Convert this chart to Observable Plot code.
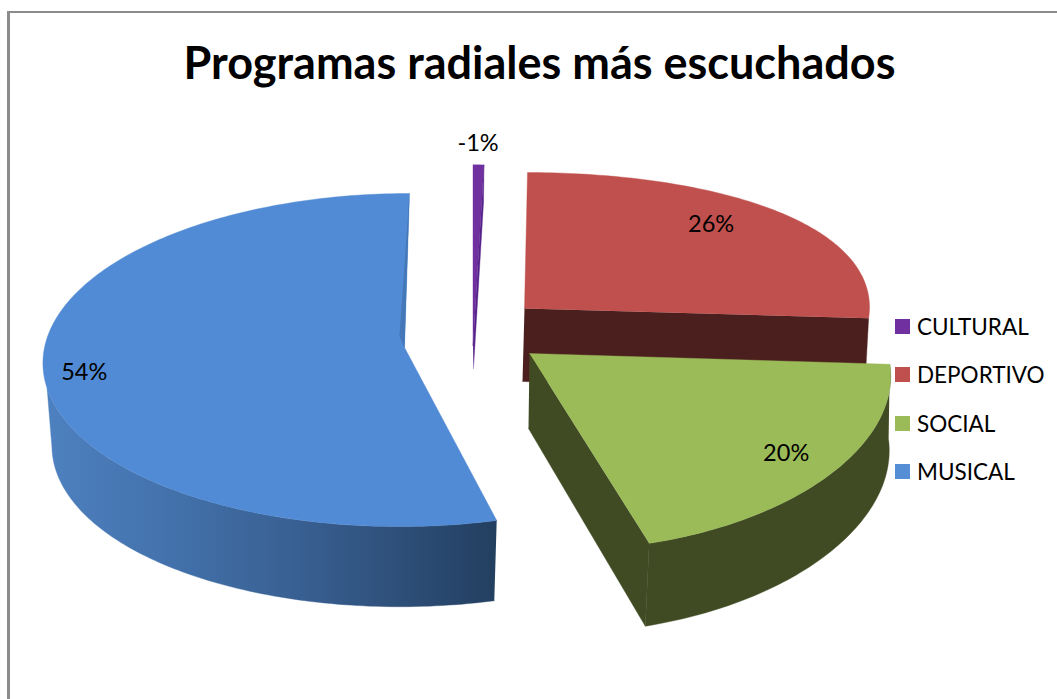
<!DOCTYPE html>
<html lang="es">
<head>
<meta charset="utf-8">
<script src="https://cdn.jsdelivr.net/npm/d3@7"></script>
<script src="https://cdn.jsdelivr.net/npm/@observablehq/plot@0.6"></script>
<style>
  html, body { margin: 0; padding: 0; background: #fff; overflow: hidden; }
  #page { position: relative; width: 1057px; height: 699px; overflow: hidden; font-family: Lato, sans-serif; color: #000; }
  #frame { position: absolute; left: 7px; top: 11px; width: 1060px; height: 700px; border-left: 3px solid #8c8c8c; border-top: 2px solid #8c8c8c; box-sizing: border-box; }
  #title { position: absolute; left: 10px; top: 24px; width: 1060px; text-align: center; font-size: 45px; line-height: 76px; font-weight: 700; height: 76px; white-space: nowrap; }
  #title span { position: relative; left: -0.5px; }
  #chart { position: absolute; left: 0; top: 110px; }
  #chart svg { display: block; background: transparent; }
  #legend { position: absolute; left: 895px; top: 303px; }
  .row { position: relative; height: 48.3px; width: 160px; }
  .key { position: absolute; left: 0; top: 16px; width: 15px; height: 15px; }
  .name { position: absolute; left: 22px; top: 0; line-height: 48px; font-size: 22.5px; white-space: nowrap; }
</style>
</head>
<body>
<div id="page">
  <div id="frame"></div>
  <div id="title"><span>Programas radiales más escuchados</span></div>
  <div id="chart"></div>
  <div id="legend"></div>
</div>
<script>
// ---- data ----
const categories = ["DEPORTIVO", "SOCIAL", "MUSICAL", "CULTURAL"];
const shares = [26, 20, 54, -0.5];
const shareLabels = ["26%", "20%", "54%", "-1%"];
const legendOrder = ["CULTURAL", "DEPORTIVO", "SOCIAL", "MUSICAL"];

// ---- styles ----
const topColors = {DEPORTIVO: "#BF504D", SOCIAL: "#9BBB59", MUSICAL: "#528BD5", CULTURAL: "#7030A0"};
const wallColors = {DEPORTIVO: "#4C1F1F", SOCIAL: "#404B24", MUSICAL: "url(#musicalWall)", CULTURAL: "#55218A"};

// ---- geometry of the tilted, exploded 3D pie (one disc per slice: top and bottom face) ----
const faces = {
  DEPORTIVO: {
    top: {cx: 524, cy: 308, R: 345, ky: 155, p: 0.14, q: 0, sk: -3},
    bot: {cx: 522, cy: 381, R: 343, ky: 155, p: 0.14, q: 0, sk: -3},
    label: {f: 0.74, dy: -11, dx: -1}
  },
  SOCIAL: {
    top: {cx: 529, cy: 353, R: 358, ky: 170, p: 0.137, q: 0.06, sk: 26},
    bot: {cx: 528, cy: 428, R: 358, ky: 177, p: 0.137, q: 0.06, sk: 23},
    label: {f: 0.87, dy: -2, dx: -6}
  },
  MUSICAL: {
    top: {cx: 404, cy: 347, R: 360, ky: 165.6, p: 0.075, q: 0.08, sk: -5},
    bot: {cx: 404, cy: 430, R: 351, ky: 163, p: 0.075, q: 0.08, sk: -5},
    inner: {cx: 399, cy: 335},
    wallTopEnd: 256,
    wallBotEnd: 264,
    label: {f: 0.89, dy: 6, dx: 1}
  },
  CULTURAL: {
    top: {cx: 472.5, cy: 345, R: 350, ky: 206, p: 0.14, q: 0, sk: 0},
    bot: {cx: 473, cy: 368, R: 320, ky: 190, p: 0.14, q: 0, sk: 0},
    label: {f: 1.1, dy: -6, dx: -1}
  }
};

const rad = d => d * Math.PI / 180;
function pt(face, deg, f = 1) {
  const u = Math.sin(rad(deg)), v = -Math.cos(rad(deg));
  return {
    x: face.cx + face.R * f * u / (1 - face.q * f * v) + face.sk * f * v,
    y: face.cy + face.ky * f * v / (1 - face.p * f * v)
  };
}
function arc(face, a0, a1) {
  const n = Math.max(2, Math.ceil(Math.abs(a1 - a0)));
  return d3.range(n + 1).map(i => pt(face, a0 + (a1 - a0) * i / n));
}

// cumulative angles from the shares
const slices = {};
let running = 0;
categories.forEach((c, i) => {
  const sweep = Math.abs(shares[i]) * 3.6;
  const a0 = shares[i] > 0 ? running : 360;
  slices[c] = {a0, a1: a0 + sweep, label: shareLabels[i]};
  if (shares[i] > 0) running += sweep;
});

const poly = (points, fill) =>
  Plot.line(points, {x: "x", y: "y", fill, stroke: fill, strokeWidth: 0.4, curve: "linear"});
const apex = f => ({x: f.cx, y: f.cy});

function topFace(c) {
  const s = slices[c], f = faces[c].top;
  return poly([apex(f), ...arc(f, s.a0, s.a1)], topColors[c]);
}
function outerWall(c, a0, a1Top, a1Bot) {
  const {top, bot} = faces[c];
  return poly([...arc(top, a0, a1Top), ...arc(bot, a1Bot, a0)], wallColors[c]);
}
function radialWall(c, deg) {
  const {top, bot} = faces[c];
  return poly([apex(top), pt(top, deg), pt(bot, deg), apex(bot)], wallColors[c]);
}

const defs = () => {
  const ns = "http://www.w3.org/2000/svg";
  const d = document.createElementNS(ns, "defs");
  const g = document.createElementNS(ns, "linearGradient");
  g.setAttribute("id", "musicalWall");
  g.setAttribute("gradientUnits", "userSpaceOnUse");
  g.setAttribute("x1", 45); g.setAttribute("x2", 495);
  g.setAttribute("y1", 0); g.setAttribute("y2", 0);
  [[0, "#4E81C0"], [0.3, "#4270A9"], [0.6, "#375D8E"], [1, "#233F60"]].forEach(([o, col]) => {
    const s = document.createElementNS(ns, "stop");
    s.setAttribute("offset", o); s.setAttribute("stop-color", col);
    g.appendChild(s);
  });
  d.appendChild(g);
  return d;
};

const labelRows = categories.map(c => {
  const s = slices[c], L = faces[c].label;
  const p = pt(faces[c].top, (s.a0 + s.a1) / 2, L.f);
  return {x: p.x + (L.dx || 0), y: p.y + L.dy, text: s.label};
});

const m = faces.MUSICAL, ms = slices.MUSICAL, cs = slices.CULTURAL, ss = slices.SOCIAL, ds = slices.DEPORTIVO;

const chart = Plot.plot({
  width: 1057,
  height: 589,
  margin: 0,
  style: {background: "transparent"},
  x: {domain: [0, 1057], range: [0, 1057], axis: null},
  y: {domain: [110, 699], range: [0, 589], axis: null},
  marks: [
    defs,
    // CULTURAL
    topFace("CULTURAL"),
    radialWall("CULTURAL", cs.a1),
    // DEPORTIVO
    radialWall("DEPORTIVO", ds.a1),
    topFace("DEPORTIVO"),
    // MUSICAL
    outerWall("MUSICAL", ms.a0, m.wallTopEnd, m.wallBotEnd),
    topFace("MUSICAL"),
    poly([pt(m.top, ms.a1), apex(m.top), apex(m.inner)], "#4478B8"),
    // SOCIAL
    radialWall("SOCIAL", ss.a1),
    outerWall("SOCIAL", ss.a0, ss.a1, ss.a1),
    topFace("SOCIAL"),
    // percentages
    Plot.text(labelRows, {x: "x", y: "y", text: "text", fontSize: 23.5, fontFamily: "Lato, sans-serif", fill: "#000"})
  ]
});
document.getElementById("chart").appendChild(chart);

const legend = document.getElementById("legend");
legendOrder.forEach(c => {
  const row = document.createElement("div");
  row.className = "row";
  const key = document.createElement("div");
  key.className = "key";
  key.style.background = topColors[c] === "#528BD5" ? "#558ED5" : topColors[c];
  const name = document.createElement("div");
  name.className = "name";
  name.textContent = c;
  row.append(key, name);
  legend.appendChild(row);
});
</script>
</body>
</html>
